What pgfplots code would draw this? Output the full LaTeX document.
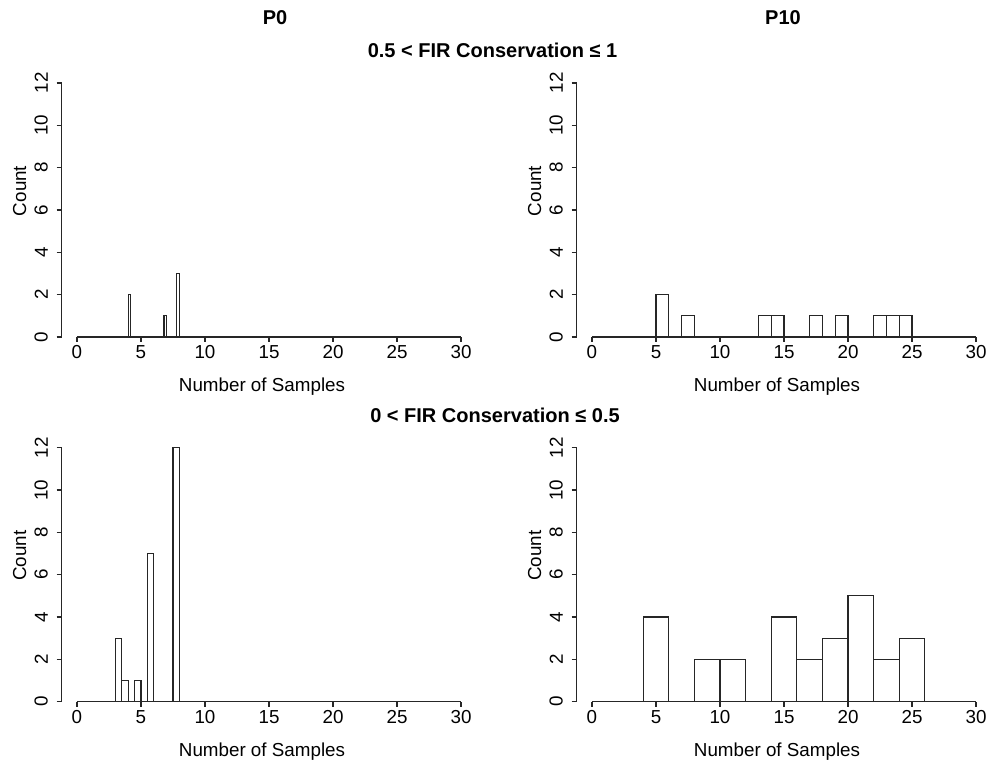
\documentclass[border=0pt]{standalone}
\usepackage{fontspec}
\setmainfont{Liberation Sans}
\usepackage{pgfplots}
\pgfplotsset{compat=1.18}

\tikzset{axl/.style={line width=0.6pt, black!85}}
\pgfplotsset{
  histax/.style={
    scale only axis, width=207.4pt, height=127pt,
    xmin=-1.2, xmax=31.2, ymin=0, ymax=12,
    axis x line*=bottom, axis y line*=left,
    axis line style={draw=none},
    xtick={0,5,...,30}, ytick={0,2,...,12},
    tick align=outside, major tick length=2.5pt,
    tick style={black!85, line width=0.6pt},
    /pgf/number format/assume math mode=true,
    tick label style={font=\fontsize{9.4}{11}\selectfont, inner sep=0pt},
    xticklabel style={anchor=north},
    yticklabel style={rotate=90, anchor=south},
    xticklabel shift=1.5pt, yticklabel shift=4.15pt,
    xlabel={Number of Samples}, ylabel={Count},
    label style={font=\fontsize{9.4}{11}\selectfont, inner sep=0pt},
    xlabel style={at={(axis description cs:0.5,0)}, anchor=base, yshift=-27.35pt, xshift=-3.5pt},
    ylabel style={at={(axis description cs:-0.0858,0.575)}, anchor=base},
    clip=false,
  },
  bars/.style={ybar interval, fill=white, draw=black!85, line width=0.6pt},
}

\begin{document}
\begin{tikzpicture}
\useasboundingbox (0,0) rectangle (494.5pt,382pt);

% Top-left: P0, 0.5 < FIR <= 1
\begin{axis}[histax, at={(30.8pt,213.5pt)}, anchor=south west]
\addplot[bars] table {
x y
4.0 2
4.2 0
6.8 1
7.0 0
7.8 3
8.0 0
};
\draw[axl] (axis cs:0,0) -- (axis cs:30,0);
\draw[axl] (axis cs:-1.2,0) -- (axis cs:-1.2,12);
\end{axis}

% Top-right: P10, 0.5 < FIR <= 1
\begin{axis}[histax, at={(288.3pt,213.5pt)}, anchor=south west]
\addplot[bars] table {
x y
5 2
6 0
7 1
8 0
13 1
14 1
15 0
17 1
18 0
19 1
20 0
22 1
23 1
24 1
25 0
};
\draw[axl] (axis cs:0,0) -- (axis cs:30,0);
\draw[axl] (axis cs:-1.2,0) -- (axis cs:-1.2,12);
\end{axis}

% Bottom-left: P0, 0 < FIR <= 0.5
\begin{axis}[histax, at={(30.8pt,31.15pt)}, anchor=south west]
\addplot[bars] table {
x y
3.0 3
3.5 1
4.0 0
4.5 1
5.0 0
5.5 7
6.0 0
7.5 12
8.0 0
};
\draw[axl] (axis cs:0,0) -- (axis cs:30,0);
\draw[axl] (axis cs:-1.2,0) -- (axis cs:-1.2,12);
\end{axis}

% Bottom-right: P10, 0 < FIR <= 0.5
\begin{axis}[histax, at={(288.3pt,31.15pt)}, anchor=south west]
\addplot[bars] table {
x y
4 4
6 0
8 2
10 2
12 0
14 4
16 2
18 3
20 5
22 2
24 3
26 0
};
\draw[axl] (axis cs:0,0) -- (axis cs:30,0);
\draw[axl] (axis cs:-1.2,0) -- (axis cs:-1.2,12);
\end{axis}

\node[font=\bfseries\fontsize{10}{12}\selectfont, anchor=base] at (137.5pt,369.5pt) {P0};
\node[font=\bfseries\fontsize{10}{12}\selectfont, anchor=base] at (391.5pt,369.5pt) {P10};
\node[font=\bfseries\fontsize{10}{12}\selectfont, anchor=base] at (246.25pt,353.35pt) {0.5 < FIR Conservation ≤ 1};
\node[font=\bfseries\fontsize{10}{12}\selectfont, anchor=base] at (247.5pt,170.85pt) {0 < FIR Conservation ≤ 0.5};
\end{tikzpicture}
\end{document}
